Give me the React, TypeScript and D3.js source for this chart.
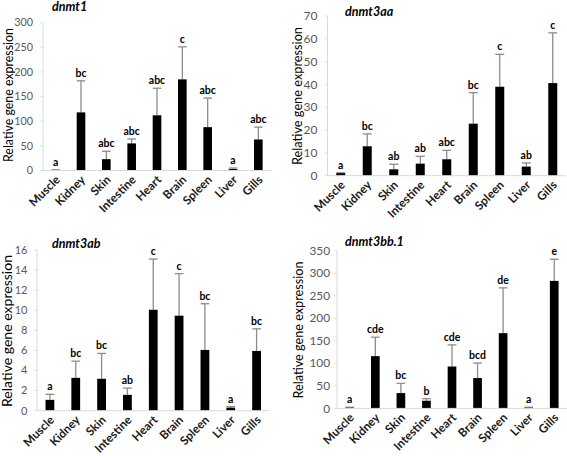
import React from "react";
import * as d3 from "d3";

// ---------- data ----------
const tissues = ["Muscle", "Kidney", "Skin", "Intestine", "Heart", "Brain", "Spleen", "Liver", "Gills"];

const dnmt1Mean = [1, 118, 23, 55, 112, 185, 88, 3, 63];
const dnmt1Sd = [0.5, 64, 16, 9, 55, 66, 59, 2, 25];
const dnmt1Letters = ["a", "bc", "abc", "abc", "abc", "c", "abc", "a", "abc"];
const dnmt1Ticks = [0, 50, 100, 150, 200, 250, 300];

const dnmt3aaMean = [1.1, 12.9, 2.8, 5.3, 7.2, 22.8, 39, 4, 40.6];
const dnmt3aaSd = [0.2, 5.4, 2.2, 3.2, 3.9, 13.6, 14.2, 1.6, 22];
const dnmt3aaLetters = ["a", "bc", "ab", "ab", "abc", "bc", "c", "ab", "c"];
const dnmt3aaTicks = [0, 10, 20, 30, 40, 50, 60, 70];

const dnmt3abMean = [1.08, 3.27, 3.18, 1.58, 10.05, 9.46, 6.05, 0.3, 5.95];
const dnmt3abSd = [0.55, 1.66, 2.52, 0.67, 5.05, 4.19, 4.6, 0.1, 2.2];
const dnmt3abLetters = ["a", "bc", "bc", "ab", "c", "c", "bc", "a", "bc"];
const dnmt3abTicks = [0, 2, 4, 6, 8, 10, 12, 14, 16];

const dnmt3bbMean = [1.5, 116, 34, 17, 93, 67.3, 167, 1.5, 283];
const dnmt3bbSd = [1, 42, 21.5, 4.5, 48, 33.3, 100.5, 1, 48];
const dnmt3bbLetters = ["a", "cde", "bc", "b", "cde", "bcd", "de", "a", "e"];
const dnmt3bbTicks = [0, 50, 100, 150, 200, 250, 300, 350];

const titles = ["dnmt1", "dnmt3aa", "dnmt3ab", "dnmt3bb.1"];
const yAxisTitle = "Relative gene expression";

// ---------- layout ----------
const FONT = "Lato, 'Open Sans', sans-serif";

type Layout = {
  xLeft: number; xRight: number; yZero: number; yTop: number;
  titleX: number; titleY: number;
  labelX: number; labelY: number; labelLen: number;
  tickRight: number; tickSize: number;
};

const layouts: Layout[] = [
  { xLeft: 43, xRight: 271, yZero: 170.5, yTop: 22.7, titleX: 52, titleY: 10.5, labelX: 12.5, labelY: 95, labelLen: 134, tickRight: 33, tickSize: 10.8 },
  { xLeft: 327.5, xRight: 566, yZero: 175.7, yTop: 16, titleX: 345, titleY: 16, labelX: 301.5, labelY: 96, labelLen: 138, tickRight: 317.5, tickSize: 12 },
  { xLeft: 37, xRight: 269.5, yZero: 410.7, yTop: 250, titleX: 52, titleY: 248, labelX: 11.5, labelY: 331, labelLen: 152, tickRight: 27.5, tickSize: 11 },
  { xLeft: 337, xRight: 567, yZero: 408.4, yTop: 250.7, titleX: 345, titleY: 246, labelX: 302.5, labelY: 330, labelLen: 137, tickRight: 330, tickSize: 11.8 },
];

const panelData = [
  { mean: dnmt1Mean, sd: dnmt1Sd, letters: dnmt1Letters, ticks: dnmt1Ticks },
  { mean: dnmt3aaMean, sd: dnmt3aaSd, letters: dnmt3aaLetters, ticks: dnmt3aaTicks },
  { mean: dnmt3abMean, sd: dnmt3abSd, letters: dnmt3abLetters, ticks: dnmt3abTicks },
  { mean: dnmt3bbMean, sd: dnmt3bbSd, letters: dnmt3bbLetters, ticks: dnmt3bbTicks },
];

function Panel({ idx }: { idx: number }) {
  const L = layouts[idx];
  const D = panelData[idx];
  const yMax = D.ticks[D.ticks.length - 1];
  const x = d3.scaleBand<string>().domain(tissues).range([L.xLeft, L.xRight]).paddingInner(0.66).paddingOuter(0.33);
  const y = d3.scaleLinear().domain([0, yMax]).range([L.yZero, L.yTop]);
  const bw = x.bandwidth();
  const capW = bw;
  return (
    <g>
      <text x={L.titleX} y={L.titleY} fontFamily={FONT} fontWeight="bold" fontStyle="italic" fontSize={12.5} fill="#000">
        {titles[idx]}
      </text>
      <text
        transform={`translate(${L.labelX},${L.labelY}) rotate(-90)`}
        textAnchor="middle"
        fontFamily={FONT}
        fontSize={13.5}
        fill="#000"
        textLength={L.labelLen}
        lengthAdjust="spacingAndGlyphs"
      >
        {yAxisTitle}
      </text>
      {/* y axis line */}
      <line x1={L.xLeft} x2={L.xLeft} y1={y(0)} y2={y(yMax)} stroke="#d9d9d9" strokeWidth={1} />
      {D.ticks.map((t) => (
        <g key={t}>
          <line x1={L.xLeft - 3} x2={L.xLeft} y1={y(t)} y2={y(t)} stroke="#e0e0e0" strokeWidth={1} />
          <text x={L.tickRight} y={y(t)} dy="0.35em" textAnchor="end" fontFamily={FONT} fontSize={L.tickSize} fill="#595959">
            {t}
          </text>
        </g>
      ))}
      {/* bars */}
      {tissues.map((c, i) => {
        const cx = (x(c) as number) + bw / 2;
        const top = y(D.mean[i]);
        const eTop = y(D.mean[i] + D.sd[i]);
        return (
          <g key={c}>
            <line x1={cx} x2={cx} y1={top} y2={eTop} stroke="#8c8c8c" strokeWidth={1.3} />
            <line x1={cx - capW / 2} x2={cx + capW / 2} y1={eTop} y2={eTop} stroke="#8c8c8c" strokeWidth={1.3} />
            <rect x={x(c)} y={top} width={bw} height={L.yZero - top} fill="#000" />
            <text x={cx} y={eTop - 4} textAnchor="middle" fontFamily={FONT} fontWeight="bold" fontSize={10.5} fill="#000">
              {D.letters[i]}
            </text>
          </g>
        );
      })}
      {/* x axis line */}
      <line x1={L.xLeft} x2={L.xRight} y1={L.yZero} y2={L.yZero} stroke="#d9d9d9" strokeWidth={1} />
      {tissues.map((c) => {
        const cx = (x(c) as number) + bw / 2;
        return (
          <text
            key={c}
            transform={`translate(${cx + 5},${L.yZero + 10}) rotate(-45)`}
            textAnchor="end"
            fontFamily={FONT}
            fontWeight="bold"
            fontSize={11.8}
            fill="#1a1a1a"
          >
            {c}
          </text>
        );
      })}
    </g>
  );
}

export default function App() {
  return (
    <svg width={567} height={456} style={{ position: "absolute", left: 0, top: 0, background: "#fff" }}>
      <rect width={567} height={456} fill="#fff" />
      {[0, 1, 2, 3].map((i) => (
        <Panel key={i} idx={i} />
      ))}
    </svg>
  );
}
